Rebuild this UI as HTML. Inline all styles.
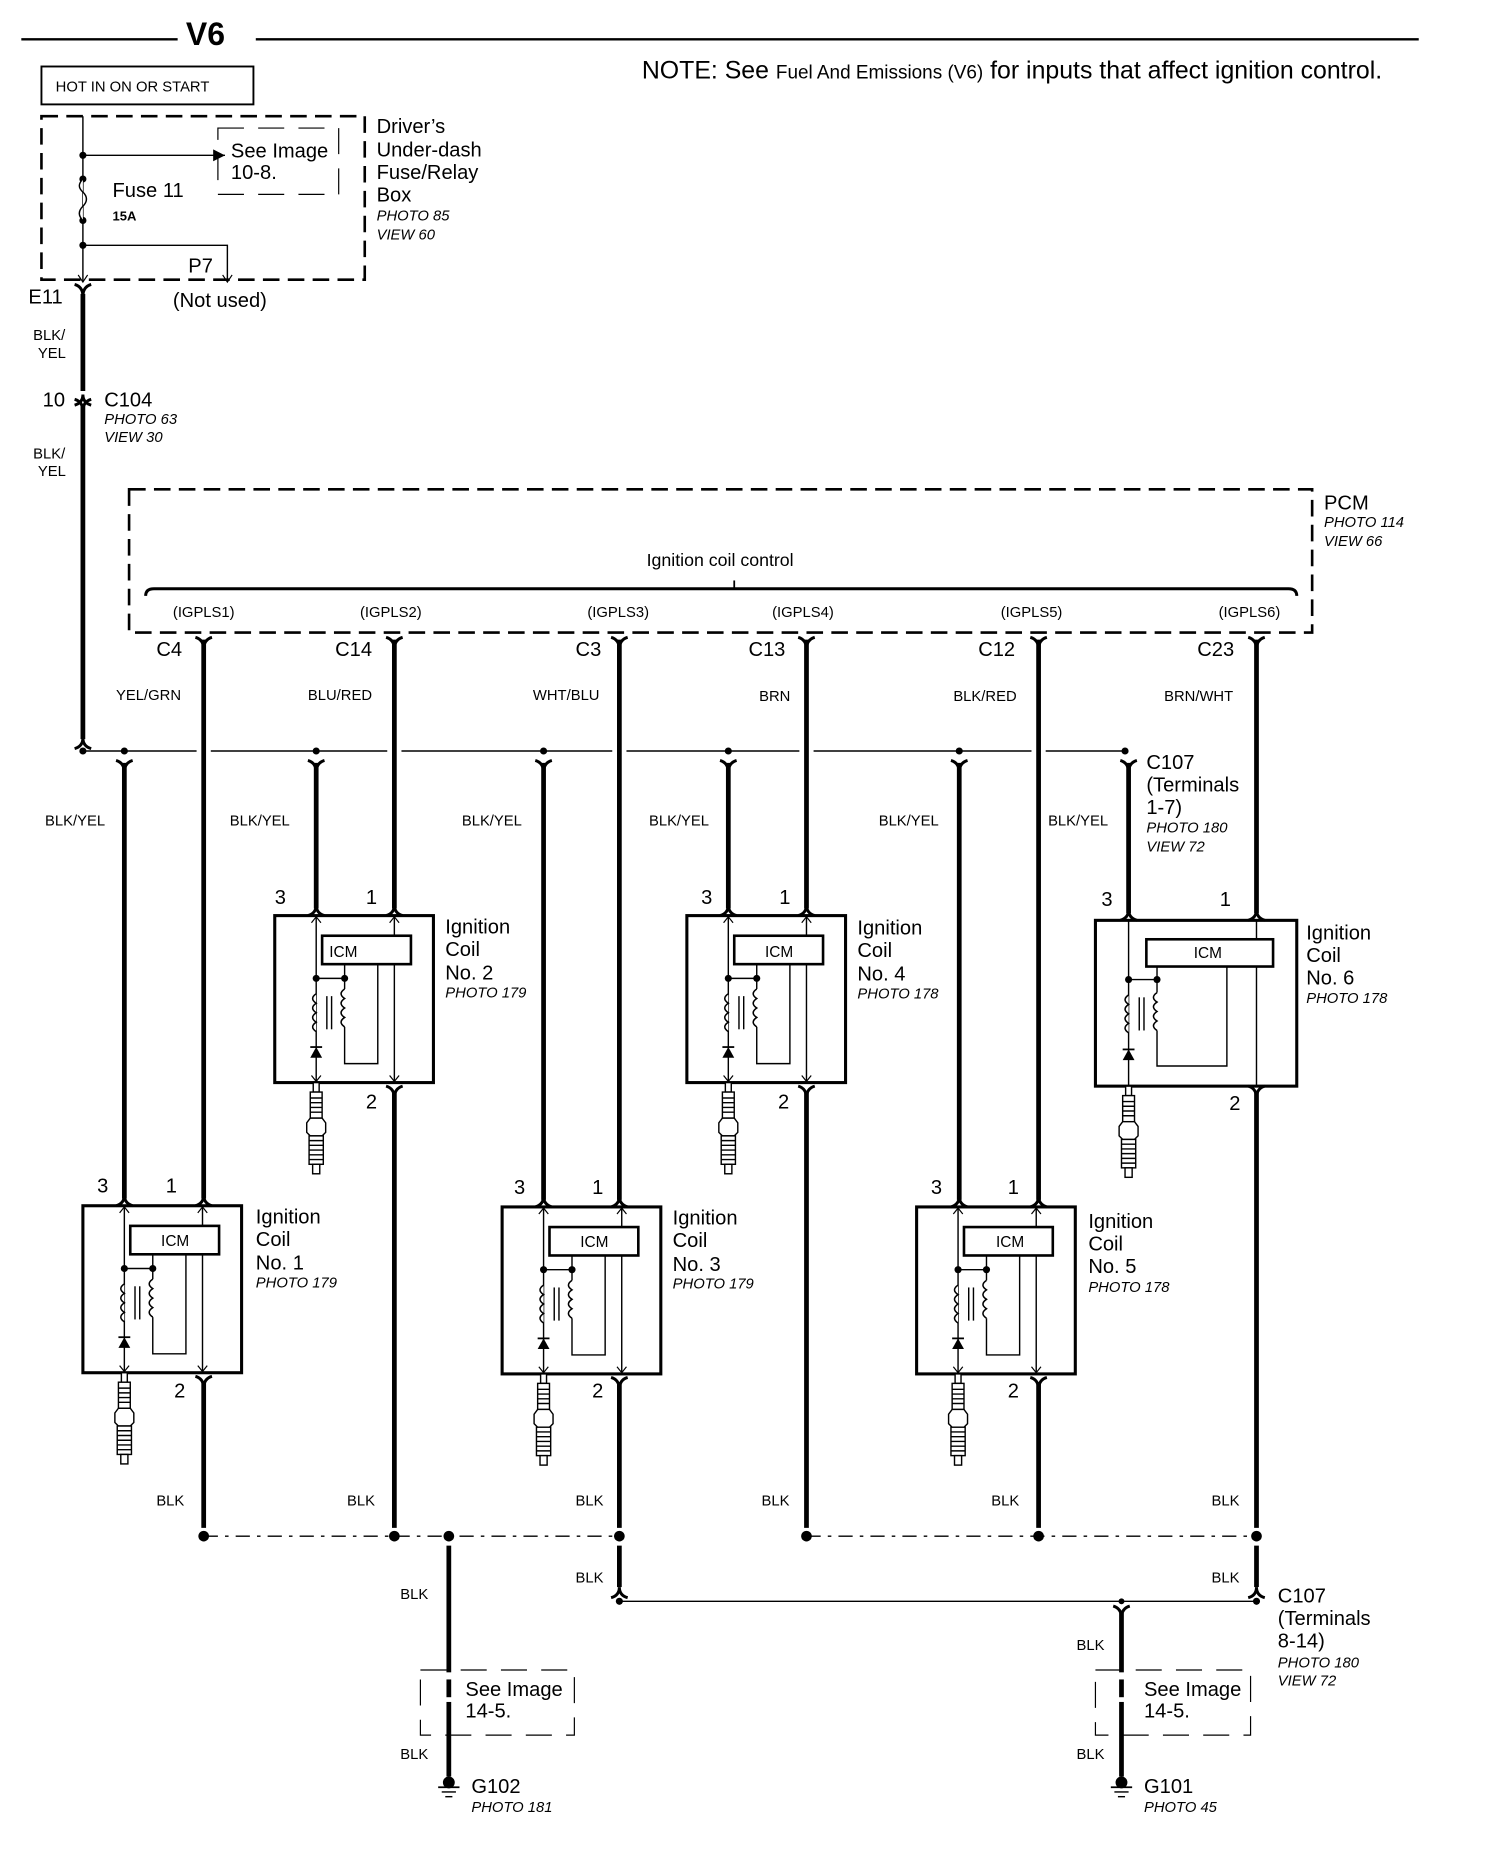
<!DOCTYPE html>
<html><head><meta charset="utf-8"><style>
html,body{margin:0;padding:0;background:#fff}
svg{display:block}
text{font-family:"Liberation Sans",Arial,sans-serif;fill:#000}
.L{font-size:17px}.S{font-size:12.5px}.I{font-size:12.5px;font-style:italic}.M{font-size:15px}
</style></head><body>
<svg width="1504" height="1862" viewBox="0 0 1270 1572" xmlns="http://www.w3.org/2000/svg">
<defs>
<g id="coil">
<rect x="0" y="0" width="134" height="141" fill="none" stroke="#000" stroke-width="2.6"/>
<line x1="35" y1="0" x2="35" y2="141" stroke="#000" stroke-width="1.2"/>
<line x1="101" y1="0" x2="101" y2="141" stroke="#000" stroke-width="1.2"/>
<path d="M31,6 L35,1 L39,6 M97,6 L101,1 L105,6 M31,135 L35,140 L39,135 M97,135 L101,140 L105,135" fill="none" stroke="#000" stroke-width="1"/>
<rect x="40" y="17" width="75" height="24" fill="#fff" stroke="#000" stroke-width="2.2"/>
<line x1="35" y1="53" x2="59" y2="53" stroke="#000" stroke-width="1.2"/>
<circle cx="35" cy="53" r="3"/><circle cx="59" cy="53" r="3"/>
<line x1="59" y1="41" x2="59" y2="62" stroke="#000" stroke-width="1.2"/>
<path d="M35,66 q-6,4 0,8 q-6,4 0,8 q-6,4 0,8 q-6,4 0,8" fill="#fff" stroke="#000" stroke-width="1.3"/>
<path d="M59,62 q-6,4 0,8 q-6,4 0,8 q-6,4 0,8 q-6,4 0,8" fill="#fff" stroke="#000" stroke-width="1.3"/>
<line x1="44" y1="68" x2="44" y2="96" stroke="#000" stroke-width="1.2"/>
<line x1="48" y1="68" x2="48" y2="96" stroke="#000" stroke-width="1.2"/>
<path d="M59,94 L59,125 L87,125 L87,41" fill="none" stroke="#000" stroke-width="1.2"/>
<path d="M30,120 L40,120 L35,111 Z"/><line x1="30" y1="111" x2="40" y2="111" stroke="#000" stroke-width="1.5"/>
</g>
<g id="plug" fill="#fff" stroke="#000" stroke-width="1.2">
<rect x="-2.5" y="0" width="5" height="8"/>
<rect x="-5" y="8" width="10" height="22"/>
<path d="M-5,13h10M-5,17h10M-5,21h10M-5,25h10" />
<path d="M-5,30 L-8,34 L-8,42 L-5,45 L5,45 L8,42 L8,34 L5,30 Z"/>
<rect x="-6" y="45" width="12" height="24"/>
<path d="M-6,49h12M-6,53h12M-6,57h12M-6,61h12M-6,65h12"/>
<rect x="-3" y="69" width="6" height="8"/>
</g>
<path id="yf" d="M-7,-8 Q0,-6 0,2 Q0,-6 7,-8" fill="none" stroke="#000" stroke-width="2.5"/>
<path id="cap" d="M-7,6 Q0,4 0,-3 Q0,4 7,6" fill="none" stroke="#000" stroke-width="2.5"/>
</defs>

<!-- header -->
<line x1="18" y1="33" x2="150" y2="33" stroke="#000" stroke-width="2"/>
<text x="157" y="38" style="font-size:27px;font-weight:bold">V6</text>
<line x1="216" y1="33" x2="1198" y2="33" stroke="#000" stroke-width="2"/>
<text x="542" y="66" style="font-size:21px">NOTE: See <tspan style="font-size:16px">Fuel And Emissions (V6)</tspan> for inputs that affect ignition control.</text>

<rect x="35" y="56" width="179" height="32" fill="none" stroke="#000" stroke-width="1.6"/>
<text x="47" y="77" class="S">HOT IN ON OR START</text>

<!-- fuse box -->
<rect x="35" y="98" width="273" height="138" fill="none" stroke="#000" stroke-width="2.2" stroke-dasharray="14,7"/>
<line x1="70" y1="98" x2="70" y2="238" stroke="#000" stroke-width="1.2"/>
<line x1="70" y1="131" x2="190" y2="131" stroke="#000" stroke-width="1.2"/>
<path d="M190,131 l-10,-5 v10z"/>
<circle cx="70" cy="131" r="3"/><circle cx="70" cy="151" r="3"/><circle cx="70" cy="186" r="3"/><circle cx="70" cy="207" r="3"/>
<path d="M70,151 q-6,6 0,11 q6,6 0,12 q-6,6 0,12" fill="#fff" stroke="#000" stroke-width="1.2"/>
<path d="M70,207 H192 V236" fill="none" stroke="#000" stroke-width="1.2"/>
<path d="M66,232 l4,6 l4,-6 M188,232 l4,6 l4,-6" fill="none" stroke="#000" stroke-width="1"/>
<rect x="184" y="108" width="102" height="56" fill="none" stroke="#000" stroke-width="1" stroke-dasharray="22,12"/>
<text x="195" y="133" class="L">See Image</text><text x="195" y="151" class="L">10-8.</text>
<text x="95" y="166" class="L">Fuse 11</text><text x="95" y="186" class="S" style="font-weight:bold;font-size:11px">15A</text>
<text x="159" y="230" class="L">P7</text>
<text x="318" y="112" class="L">Driver’s</text><text x="318" y="132" class="L">Under-dash</text><text x="318" y="151" class="L">Fuse/Relay</text><text x="318" y="170" class="L">Box</text>
<text x="318" y="186" class="I">PHOTO 85</text><text x="318" y="202" class="I">VIEW 60</text>
<text x="146" y="259" class="L">(Not used)</text>
<text x="24" y="256" class="L">E11</text>
<use href="#yf" x="70" y="248"/>

<!-- main feed -->
<line x1="70" y1="248" x2="70" y2="330" stroke="#000" stroke-width="4"/>
<line x1="70" y1="342" x2="70" y2="624" stroke="#000" stroke-width="4"/>
<use href="#cap" x="70" y="336"/><use href="#yf" x="70" y="345"/>
<text x="28" y="287" class="S">BLK/</text><text x="32" y="302" class="S">YEL</text>
<text x="36" y="343" class="L">10</text>
<text x="88" y="343" class="L">C104</text><text x="88" y="358" class="I">PHOTO 63</text><text x="88" y="373" class="I">VIEW 30</text>
<text x="28" y="387" class="S">BLK/</text><text x="32" y="402" class="S">YEL</text>
<use href="#cap" x="70" y="626"/>

<!-- PCM -->
<rect x="109" y="413" width="999" height="121" fill="none" stroke="#000" stroke-width="2.2" stroke-dasharray="14,7"/>
<path d="M123,503 Q123,497 130,497 H1088 Q1095,497 1095,503" fill="none" stroke="#000" stroke-width="2.5"/>
<line x1="620" y1="497" x2="620" y2="490" stroke="#000" stroke-width="1.5"/>
<text x="546" y="478" class="M">Ignition coil control</text>
<text x="1118" y="430" class="L">PCM</text><text x="1118" y="445" class="I">PHOTO 114</text><text x="1118" y="461" class="I">VIEW 66</text>
<text x="146" y="521" class="S">(IGPLS1)</text><text x="304" y="521" class="S">(IGPLS2)</text><text x="496" y="521" class="S">(IGPLS3)</text>
<text x="652" y="521" class="S">(IGPLS4)</text><text x="845" y="521" class="S">(IGPLS5)</text><text x="1029" y="521" class="S">(IGPLS6)</text>

<!-- PCM wires -->
<g stroke="#000" stroke-width="4">
<line x1="172" y1="540" x2="172" y2="1012"/>
<line x1="333" y1="540" x2="333" y2="767"/>
<line x1="523" y1="540" x2="523" y2="1013"/>
<line x1="681" y1="540" x2="681" y2="767"/>
<line x1="877" y1="540" x2="877" y2="1013"/>
<line x1="1061" y1="540" x2="1061" y2="771"/>
</g>
<use href="#yf" x="172" y="546"/><use href="#yf" x="333" y="546"/><use href="#yf" x="523" y="546"/>
<use href="#yf" x="681" y="546"/><use href="#yf" x="877" y="546"/><use href="#yf" x="1061" y="546"/>
<text x="132" y="554" class="L">C4</text><text x="283" y="554" class="L">C14</text><text x="486" y="554" class="L">C3</text>
<text x="632" y="554" class="L">C13</text><text x="826" y="554" class="L">C12</text><text x="1011" y="554" class="L">C23</text>
<text x="98" y="591" class="S">YEL/GRN</text><text x="260" y="591" class="S">BLU/RED</text><text x="450" y="591" class="S">WHT/BLU</text>
<text x="641" y="592" class="S">BRN</text><text x="805" y="592" class="S">BLK/RED</text><text x="983" y="592" class="S">BRN/WHT</text>

<!-- bus -->
<g stroke="#000" stroke-width="1.2">
<line x1="70" y1="634" x2="166" y2="634"/><line x1="178" y1="634" x2="327" y2="634"/>
<line x1="339" y1="634" x2="517" y2="634"/><line x1="529" y1="634" x2="675" y2="634"/>
<line x1="687" y1="634" x2="871" y2="634"/><line x1="883" y1="634" x2="950" y2="634"/>
</g>
<circle cx="70" cy="634" r="3"/><circle cx="105" cy="634" r="3"/><circle cx="267" cy="634" r="3"/><circle cx="459" cy="634" r="3"/>
<circle cx="615" cy="634" r="3"/><circle cx="810" cy="634" r="3"/><circle cx="950" cy="634" r="3"/>
<g stroke="#000" stroke-width="4">
<line x1="105" y1="644" x2="105" y2="1012"/>
<line x1="267" y1="644" x2="267" y2="767"/>
<line x1="459" y1="644" x2="459" y2="1013"/>
<line x1="615" y1="644" x2="615" y2="767"/>
<line x1="810" y1="644" x2="810" y2="1013"/>
<line x1="953" y1="644" x2="953" y2="771"/>
</g>
<use href="#yf" x="105" y="650"/><use href="#yf" x="267" y="650"/><use href="#yf" x="459" y="650"/>
<use href="#yf" x="615" y="650"/><use href="#yf" x="810" y="650"/><use href="#yf" x="953" y="650"/>
<text x="38" y="697" class="S">BLK/YEL</text><text x="194" y="697" class="S">BLK/YEL</text><text x="390" y="697" class="S">BLK/YEL</text>
<text x="548" y="697" class="S">BLK/YEL</text><text x="742" y="697" class="S">BLK/YEL</text><text x="885" y="697" class="S">BLK/YEL</text>
<text x="968" y="649" class="L">C107</text><text x="968" y="668" class="L">(Terminals</text><text x="968" y="687" class="L">1-7)</text>
<text x="968" y="703" class="I">PHOTO 180</text><text x="968" y="719" class="I">VIEW 72</text>

<!-- coils -->
<use href="#coil" x="70" y="1018"/><use href="#plug" x="105" y="1159"/>
<use href="#coil" x="232" y="773"/><use href="#plug" x="267" y="914"/>
<use href="#coil" x="424" y="1019"/><use href="#plug" x="459" y="1160"/>
<use href="#coil" x="580" y="773"/><use href="#plug" x="615" y="914"/>
<use href="#coil" x="774" y="1019"/><use href="#plug" x="809" y="1160"/>
<!-- coil 6 -->
<g>
<rect x="925" y="777" width="170" height="140" fill="none" stroke="#000" stroke-width="2.6"/>
<line x1="953" y1="777" x2="953" y2="917" stroke="#000" stroke-width="1.2"/>
<line x1="1061" y1="777" x2="1061" y2="917" stroke="#000" stroke-width="1.2"/>
<rect x="968" y="793" width="107" height="23" fill="#fff" stroke="#000" stroke-width="2.2"/>
<line x1="953" y1="827" x2="977" y2="827" stroke="#000" stroke-width="1.2"/>
<circle cx="953" cy="827" r="3"/><circle cx="977" cy="827" r="3"/>
<line x1="977" y1="816" x2="977" y2="838" stroke="#000" stroke-width="1.2"/>
<path d="M953,840 q-6,4 0,8 q-6,4 0,8 q-6,4 0,8 q-6,4 0,8" fill="#fff" stroke="#000" stroke-width="1.3"/>
<path d="M977,838 q-6,4 0,8 q-6,4 0,8 q-6,4 0,8 q-6,4 0,8" fill="#fff" stroke="#000" stroke-width="1.3"/>
<line x1="962" y1="842" x2="962" y2="870" stroke="#000" stroke-width="1.2"/><line x1="966" y1="842" x2="966" y2="870" stroke="#000" stroke-width="1.2"/>
<path d="M977,870 V900 H1036 V816" fill="none" stroke="#000" stroke-width="1.2"/>
<path d="M948,895 L958,895 L953,886 Z"/><line x1="948" y1="886" x2="958" y2="886" stroke="#000" stroke-width="1.5"/>
</g>
<use href="#plug" x="953" y="917"/>
<text x="278" y="808" class="S" style="font-size:13px">ICM</text>
<text x="136" y="1052" class="S" style="font-size:13px">ICM</text>
<text x="490" y="1053" class="S" style="font-size:13px">ICM</text>
<text x="646" y="808" class="S" style="font-size:13px">ICM</text>
<text x="841" y="1053" class="S" style="font-size:13px">ICM</text>
<text x="1008" y="809" class="S" style="font-size:13px">ICM</text>

<!-- coil caps -->
<use href="#cap" x="105" y="1012"/><use href="#cap" x="172" y="1012"/>
<use href="#cap" x="267" y="767"/><use href="#cap" x="333" y="767"/>
<use href="#cap" x="459" y="1013"/><use href="#cap" x="523" y="1013"/>
<use href="#cap" x="615" y="767"/><use href="#cap" x="681" y="767"/>
<use href="#cap" x="810" y="1013"/><use href="#cap" x="877" y="1013"/>
<use href="#cap" x="953" y="771"/><use href="#cap" x="1061" y="771"/>
<text x="82" y="1007" class="L">3</text><text x="140" y="1007" class="L">1</text>
<text x="232" y="763" class="L">3</text><text x="309" y="763" class="L">1</text>
<text x="434" y="1008" class="L">3</text><text x="500" y="1008" class="L">1</text>
<text x="592" y="763" class="L">3</text><text x="658" y="763" class="L">1</text>
<text x="786" y="1008" class="L">3</text><text x="851" y="1008" class="L">1</text>
<text x="930" y="765" class="L">3</text><text x="1030" y="765" class="L">1</text>

<!-- coil labels -->
<text x="376" y="788" class="L">Ignition</text><text x="376" y="807" class="L">Coil</text><text x="376" y="827" class="L">No. 2</text><text x="376" y="842" class="I">PHOTO 179</text>
<text x="724" y="789" class="L">Ignition</text><text x="724" y="808" class="L">Coil</text><text x="724" y="828" class="L">No. 4</text><text x="724" y="843" class="I">PHOTO 178</text>
<text x="1103" y="793" class="L">Ignition</text><text x="1103" y="812" class="L">Coil</text><text x="1103" y="831" class="L">No. 6</text><text x="1103" y="847" class="I">PHOTO 178</text>
<text x="216" y="1033" class="L">Ignition</text><text x="216" y="1052" class="L">Coil</text><text x="216" y="1072" class="L">No. 1</text><text x="216" y="1087" class="I">PHOTO 179</text>
<text x="568" y="1034" class="L">Ignition</text><text x="568" y="1053" class="L">Coil</text><text x="568" y="1073" class="L">No. 3</text><text x="568" y="1088" class="I">PHOTO 179</text>
<text x="919" y="1037" class="L">Ignition</text><text x="919" y="1056" class="L">Coil</text><text x="919" y="1075" class="L">No. 5</text><text x="919" y="1091" class="I">PHOTO 178</text>

<!-- pin 2 / ground wires -->
<g stroke="#000" stroke-width="4">
<line x1="172" y1="1166" x2="172" y2="1290"/>
<line x1="333" y1="921" x2="333" y2="1290"/>
<line x1="523" y1="1167" x2="523" y2="1290"/>
<line x1="681" y1="921" x2="681" y2="1290"/>
<line x1="877" y1="1167" x2="877" y2="1290"/>
<line x1="1061" y1="921" x2="1061" y2="1290"/>
<line x1="523" y1="1305" x2="523" y2="1340"/>
<line x1="1061" y1="1305" x2="1061" y2="1340"/>
<line x1="379" y1="1305" x2="379" y2="1500"/>
<line x1="947" y1="1362" x2="947" y2="1500"/>
</g>
<use href="#yf" x="172" y="1170"/><use href="#yf" x="333" y="925"/><use href="#yf" x="523" y="1171"/>
<use href="#yf" x="681" y="925"/><use href="#yf" x="877" y="1171"/><use href="#yf" x="1061" y="925"/>
<text x="147" y="1180" class="L">2</text><text x="309" y="936" class="L">2</text><text x="500" y="1180" class="L">2</text>
<text x="657" y="936" class="L">2</text><text x="851" y="1180" class="L">2</text><text x="1038" y="937" class="L">2</text>
<text x="132" y="1271" class="S">BLK</text><text x="293" y="1271" class="S">BLK</text><text x="486" y="1271" class="S">BLK</text>
<text x="643" y="1271" class="S">BLK</text><text x="837" y="1271" class="S">BLK</text><text x="1023" y="1271" class="S">BLK</text>
<line x1="172" y1="1297" x2="523" y2="1297" stroke="#000" stroke-width="1.2" stroke-dasharray="12,6,3,6"/>
<line x1="681" y1="1297" x2="1061" y2="1297" stroke="#000" stroke-width="1.2" stroke-dasharray="12,6,3,6"/>
<circle cx="172" cy="1297" r="4.5"/><circle cx="333" cy="1297" r="4.5"/><circle cx="379" cy="1297" r="4.5"/><circle cx="523" cy="1297" r="4.5"/>
<circle cx="681" cy="1297" r="4.5"/><circle cx="877" cy="1297" r="4.5"/><circle cx="1061" cy="1297" r="4.5"/>
<text x="486" y="1336" class="S">BLK</text><text x="1023" y="1336" class="S">BLK</text>
<use href="#cap" x="523" y="1343"/><use href="#cap" x="1061" y="1343"/>
<line x1="523" y1="1352" x2="1061" y2="1352" stroke="#000" stroke-width="1.2"/>
<circle cx="523" cy="1352" r="3"/><circle cx="1061" cy="1352" r="3"/><circle cx="947" cy="1352" r="2.5"/>
<use href="#yf" x="947" y="1364"/>
<text x="1079" y="1353" class="L">C107</text><text x="1079" y="1372" class="L">(Terminals</text><text x="1079" y="1391" class="L">8-14)</text>
<text x="1079" y="1408" class="I">PHOTO 180</text><text x="1079" y="1423" class="I">VIEW 72</text>

<!-- G102 -->
<text x="338" y="1350" class="S">BLK</text>
<rect x="355" y="1410" width="130" height="55" fill="none" stroke="#000" stroke-width="1" stroke-dasharray="22,12"/>
<rect x="374" y="1412" width="10" height="6" fill="#fff"/><rect x="374" y="1433" width="10" height="4" fill="#fff"/>
<text x="393" y="1432" class="L">See Image</text><text x="393" y="1450" class="L">14-5.</text>
<text x="338" y="1485" class="S">BLK</text>
<circle cx="379" cy="1505" r="5"/><line x1="370" y1="1509" x2="388" y2="1509" stroke="#000" stroke-width="1.5"/>
<line x1="373" y1="1513" x2="385" y2="1513" stroke="#000" stroke-width="1.2"/><line x1="376" y1="1517" x2="382" y2="1517" stroke="#000" stroke-width="1.2"/>
<text x="398" y="1514" class="L">G102</text><text x="398" y="1530" class="I">PHOTO 181</text>

<!-- G101 -->
<text x="909" y="1393" class="S">BLK</text>
<rect x="925" y="1410" width="131" height="55" fill="none" stroke="#000" stroke-width="1" stroke-dasharray="22,12"/>
<rect x="942" y="1412" width="10" height="6" fill="#fff"/><rect x="942" y="1433" width="10" height="4" fill="#fff"/>
<text x="966" y="1432" class="L">See Image</text><text x="966" y="1450" class="L">14-5.</text>
<text x="909" y="1485" class="S">BLK</text>
<circle cx="947" cy="1505" r="5"/><line x1="938" y1="1509" x2="956" y2="1509" stroke="#000" stroke-width="1.5"/>
<line x1="941" y1="1513" x2="953" y2="1513" stroke="#000" stroke-width="1.2"/><line x1="944" y1="1517" x2="950" y2="1517" stroke="#000" stroke-width="1.2"/>
<text x="966" y="1514" class="L">G101</text><text x="966" y="1530" class="I">PHOTO 45</text>
</svg>
</body></html>
